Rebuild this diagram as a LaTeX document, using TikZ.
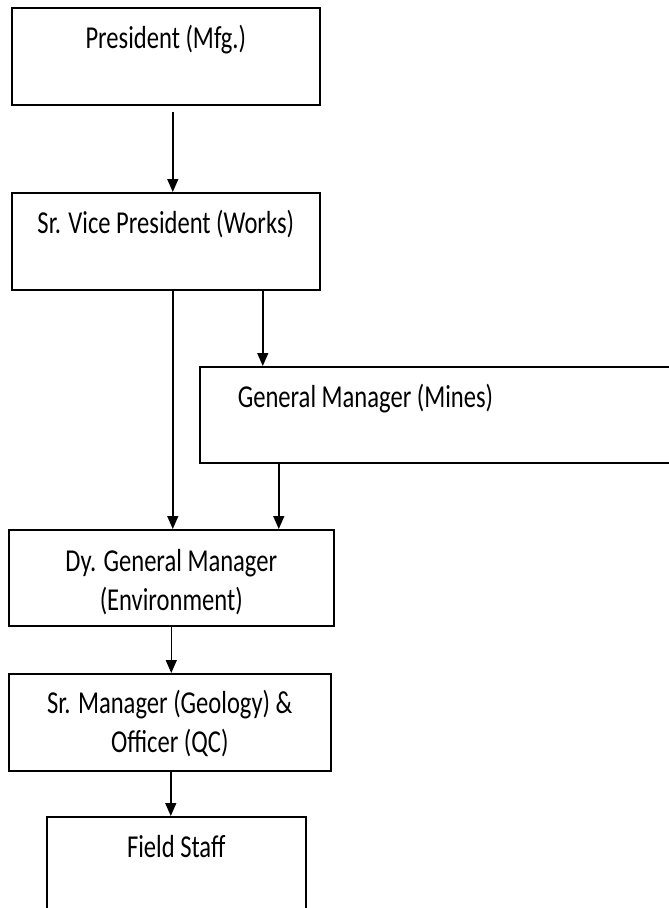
\documentclass[tikz,border=0pt]{standalone}
\usepackage{fontspec}
\setmainfont{Carlito}[FakeStretch=0.77]
\usetikzlibrary{arrows.meta}

\tikzset{
    post/.style={draw, line width=1.1pt, anchor=north west, inner xsep=0pt, inner ysep=0pt,
        font=\fontsize{22.7}{27.7}\selectfont, align=center},
    arr/.style={line width=1.1pt, -{Triangle[length=0.32cm, width=0.27cm]}}
}

\begin{document}
\begin{tikzpicture}
        \clip (0, 0) rectangle (16.725, 22.7);

            \node[post, minimum width=7.7cm, text height=1.025cm, text depth=1.4cm] (pres) at (0.275, 22.525){President (Mfg.)};
            \node[post, minimum width=7.7cm, text height=1.025cm, text depth=1.4cm] (svp) at (0.275, 17.9){Sr. Vice President (Works)};

            %%branch to mines
            \node[post, inner xsep=0.95cm, text width=10.6cm, align=flush left, text height=1.025cm, text depth=1.375cm] (gm) at (4.975, 13.55){General Manager (Mines)};

            \node[post, minimum width=8.125cm, text height=2.025cm, text depth=0.375cm] (dgm) at (0.2, 9.475){Dy. General Manager\\(Environment)};
            \node[post, minimum width=8.05cm, text height=1.975cm, text depth=0.45cm] (srm) at (0.2, 5.875){Sr. Manager (Geology) \&\\Officer (QC)};
            \node[post, minimum width=6.475cm, text height=1.025cm, text depth=1.6cm] (fs) at (1.15, 2.3){Field Staff};

            \draw[arr, shorten <=0.15cm] ([xshift=0.175cm]pres.south) to ([xshift=0.175cm]svp.north);

            %%branch
            \draw[arr] ([xshift=0.175cm]svp.south) to ([xshift=0.175cm]svp.south |- dgm.north);
            \draw[arr] ([xshift=2.425cm]svp.south) to ([xshift=2.425cm]svp.south |- gm.north);
            \draw[arr] ([xshift=-4.275cm]gm.south) to ([xshift=-4.275cm]gm.south |- dgm.north);

            \draw[arr] (dgm.south) to (dgm.south |- srm.north);
            \draw[arr] ([xshift=0.025cm]srm.south) to ([xshift=0.025cm]srm.south |- fs.north);

        \end{tikzpicture}
\end{document}
